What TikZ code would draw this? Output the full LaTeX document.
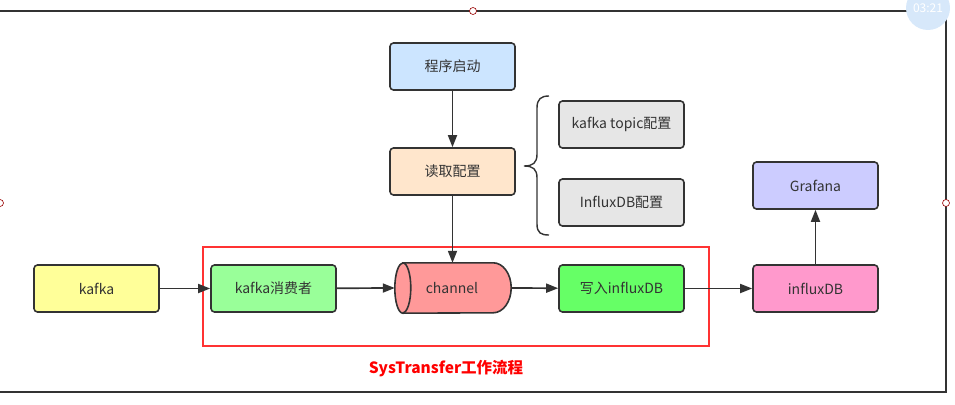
\documentclass[tikz,border=0pt]{standalone}
\usepackage{fontspec}
\setmainfont{Noto Sans CJK SC}
\usetikzlibrary{arrows.meta}
\definecolor{ink}{HTML}{333333}
\definecolor{redln}{HTML}{FF3333}
\begin{document}
\begin{tikzpicture}[x=1pt,y=-1pt,
  box/.style={draw=ink,line width=1.6pt,rounded corners=3.5pt,minimum width=125pt,minimum height=47pt,inner sep=0pt,font=\fontsize{14}{16}\selectfont,text=ink},
  conn/.style={draw=ink,line width=1.7pt,-{Triangle[length=12pt,width=9pt]}},
  frame/.style={draw=ink,line width=2pt},
  handle/.style={draw=red!60!black,fill=white,line width=0.6pt}]
\useasboundingbox (0,0) rectangle (955,404);
% frame
\draw[frame] (-2,11) -- (946,11) -- (946,392) -- (-2,392);
\draw[handle] (473,11) circle (3.5);
\draw[handle] (946,203) circle (3.5);
\draw[handle] (0,203) circle (3.5);
% bubble
\fill[color={rgb,255:red,215;green,232;blue,250}] (928,8) circle (22);
\node[text=white,font=\fontsize{12}{14}\selectfont] (clock) at (928,8) {03:21};
% nodes
\node[box,fill={rgb,255:red,204;green,229;blue,255}] (start) at (452.5,66.5) {程序启动};
\node[box,fill={rgb,255:red,255;green,230;blue,204}] (read) at (452.5,171.5) {读取配置};
\node[box,fill={rgb,255:red,230;green,230;blue,230}] (topic) at (621.5,124.5) {kafka topic配置};
\node[box,fill={rgb,255:red,230;green,230;blue,230}] (idbcfg) at (621.5,202.5) {InfluxDB配置};
\node[box,fill={rgb,255:red,255;green,255;blue,153}] (kafka) at (96.5,288.5) {kafka};
\node[box,fill={rgb,255:red,153;green,255;blue,153}] (cons) at (273.5,288.5) {kafka消费者};
\node[box,fill={rgb,255:red,102;green,255;blue,102}] (write) at (621.5,288.5) {写入influxDB};
\node[box,fill={rgb,255:red,255;green,153;blue,204}] (idb) at (815.5,288.5) {influxDB};
\node[box,fill={rgb,255:red,204;green,204;blue,255}] (graf) at (815.5,185.5) {Grafana};
% channel (storage shape)
\node[minimum width=116pt,minimum height=50pt,inner sep=0pt] (ch) at (453,288) {};
\draw[draw=ink,line width=1.6pt,fill={rgb,255:red,255;green,153;blue,153}]
  ([xshift=8pt]ch.north west) -- ([xshift=-18pt]ch.north east)
  arc[start angle=90,end angle=-90,x radius=18pt,y radius=25pt]
  -- ([xshift=8pt]ch.south west)
  arc[start angle=270,end angle=90,x radius=8pt,y radius=25pt] -- cycle;
\draw[draw=ink,line width=1.6pt] ([xshift=8pt]ch.north west)
  arc[start angle=90,end angle=-90,x radius=8pt,y radius=25pt];
\node[font=\fontsize{14}{16}\selectfont,text=ink] (chl) at (452,288) {channel};
% brace
\draw[draw=ink,line width=1.4pt] (549,96) .. controls (541,96) and (537,99) .. (537,108) -- (537,154)
  .. controls (537,163) and (533,166) .. (524,166)
  .. controls (533,166) and (537,169) .. (537,178) -- (537,224)
  .. controls (537,233) and (541,235) .. (549,235);
% red group
\node[draw=redln,line width=2pt,minimum width=506pt,minimum height=99pt,inner sep=0pt] (grp) at (456,296.5) {};
\node[text=red,font=\bfseries\fontsize{15.5}{18}\selectfont] (title) at (446,369) {SysTransfer工作流程};
% connectors
\draw[conn] (start) -- (read);
\draw[conn] (read.south) -- (ch.north -| read.south);
\draw[conn] (kafka) -- (cons);
\draw[conn] (cons) -- (ch.west);
\draw[conn] (ch.east) -- (write);
\draw[conn] (write) -- (idb);
\draw[conn] (idb) -- (graf);
\end{tikzpicture}
\end{document}
